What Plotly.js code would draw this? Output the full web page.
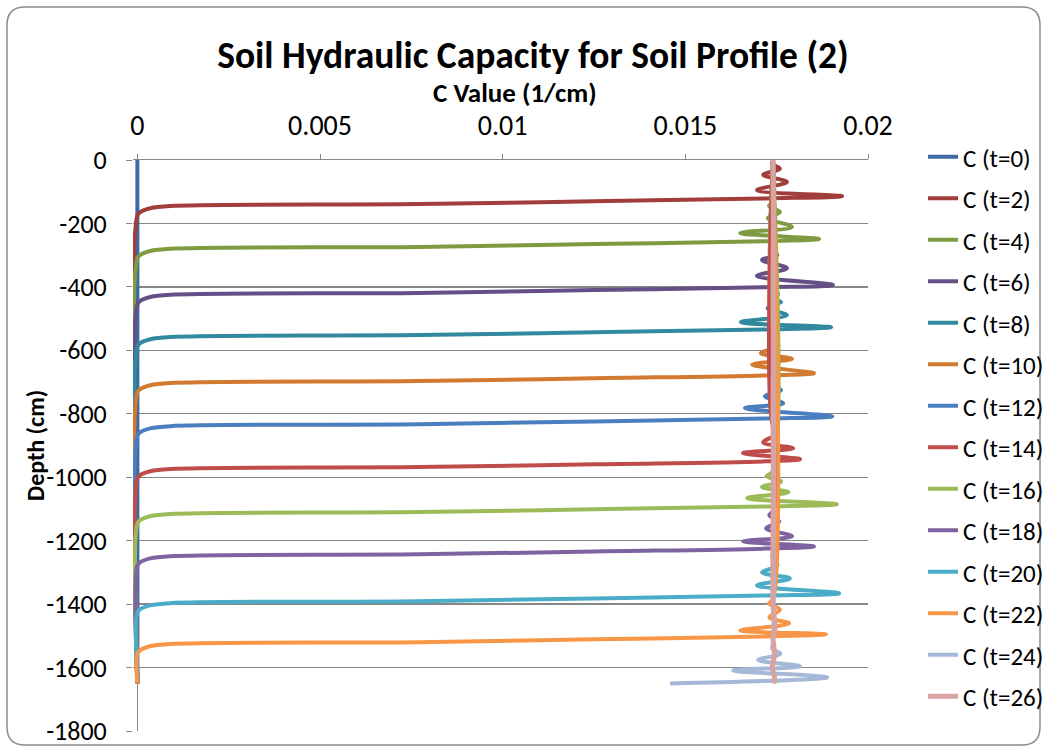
<!DOCTYPE html>
<html>
<head>
<meta charset="utf-8">
<script src="https://cdn.plot.ly/plotly-3.0.1.min.js"></script>
<style>
html,body{margin:0;padding:0;background:#fff;}
#chart{width:1047px;height:751px;}
</style>
</head>
<body>
<div id="chart"></div>
<script>
// ---------- DATA ----------
const seriesNames = ['C (t=0)','C (t=2)','C (t=4)','C (t=6)','C (t=8)','C (t=10)','C (t=12)',
  'C (t=14)','C (t=16)','C (t=18)','C (t=20)','C (t=22)','C (t=24)','C (t=26)'];

const depth_t0 = [0, -1650];
const c_t0     = [0, 0];

const depth_t2 = [0, -12, -28, -47, -69, -95, -114, -121, -130, -139, -145, -152, -164, -175, -1650];
const c_t2     = [0.01740, 0.01738, 0.01759, 0.01713, 0.01778, 0.01696, 0.01929, 0.01720, 0.01250, 0.00770, 0.00090, 0.00035, 0.00008, 0, 0];

const depth_t4 = [0, -130, -145, -164, -183, -211, -230, -249, -256, -265, -274, -280, -287, -299, -310, -1650];
const c_t4     = [0.01740, 0.01740, 0.01729, 0.01759, 0.01726, 0.01792, 0.01650, 0.01866, 0.01720, 0.01250, 0.00770, 0.00090, 0.00035, 0.00008, 0, 0];

const depth_t6 = [0, -270, -284, -300, -315, -341, -365, -394, -401, -410, -419, -425, -432, -444, -455, -1650];
const c_t6     = [0.01740, 0.01740, 0.01735, 0.01752, 0.01710, 0.01778, 0.01696, 0.01904, 0.01720, 0.01250, 0.00770, 0.00090, 0.00035, 0.00008, 0, 0];

const depth_t8 = [0, -410, -423, -436, -448, -467, -489, -511, -527, -534, -543, -552, -558, -565, -577, -588, -1650];
const c_t8     = [0.01740, 0.01740, 0.01754, 0.01735, 0.01762, 0.01725, 0.01778, 0.01652, 0.01899, 0.01720, 0.01250, 0.00770, 0.00090, 0.00035, 0.00008, 0, 0];

const depth_t10 = [0, -570, -586, -609, -627, -645, -672, -679, -688, -697, -703, -710, -722, -733, -1650];
const c_t10     = [0.01740, 0.01740, 0.01755, 0.01707, 0.01792, 0.01683, 0.01852, 0.01720, 0.01250, 0.00770, 0.00090, 0.00035, 0.00008, 0, 0];

const depth_t12 = [0, -690, -704, -726, -745, -767, -782, -808, -815, -824, -833, -839, -846, -858, -869, -1650];
const c_t12     = [0.01740, 0.01740, 0.01732, 0.01762, 0.01718, 0.01768, 0.01663, 0.01902, 0.01720, 0.01250, 0.00770, 0.00090, 0.00035, 0.00008, 0, 0];

const depth_t14 = [0, -840, -861, -890, -909, -924, -943, -950, -959, -968, -974, -981, -993, -1004, -1650];
const c_t14     = [0.01740, 0.01740, 0.01754, 0.01713, 0.01795, 0.01658, 0.01814, 0.01720, 0.01250, 0.00770, 0.00090, 0.00035, 0.00008, 0, 0];

const depth_t16 = [0, -980, -997, -1013, -1031, -1047, -1066, -1085, -1092, -1101, -1110, -1116, -1123, -1135, -1146, -1650];
const c_t16     = [0.01740, 0.01740, 0.01722, 0.01762, 0.01710, 0.01782, 0.01669, 0.01915, 0.01720, 0.01250, 0.00770, 0.00090, 0.00035, 0.00008, 0, 0];

const depth_t18 = [0, -1105, -1120, -1139, -1161, -1186, -1202, -1218, -1225, -1234, -1243, -1249, -1256, -1268, -1279, -1650];
const c_t18     = [0.01740, 0.01740, 0.01730, 0.01757, 0.01721, 0.01792, 0.01658, 0.01852, 0.01720, 0.01250, 0.00770, 0.00090, 0.00035, 0.00008, 0, 0];

const depth_t20 = [0, -1240, -1253, -1278, -1300, -1319, -1341, -1366, -1373, -1382, -1391, -1397, -1404, -1416, -1427, -1650];
const c_t20     = [0.01740, 0.01740, 0.01738, 0.01752, 0.01710, 0.01786, 0.01696, 0.01921, 0.01720, 0.01250, 0.00770, 0.00090, 0.00035, 0.00008, 0, 0];

const depth_t22 = [0, -1385, -1398, -1417, -1442, -1461, -1483, -1495, -1502, -1511, -1520, -1526, -1533, -1545, -1556, -1650];
const c_t22     = [0.01740, 0.01740, 0.01729, 0.01759, 0.01730, 0.01784, 0.01650, 0.01885, 0.01720, 0.01250, 0.00770, 0.00090, 0.00035, 0.00008, 0, 0];

const depth_t24 = [0, -1520, -1540, -1556, -1576, -1596, -1609, -1631, -1650];
const c_t24     = [0.01740, 0.01740, 0.01738, 0.01760, 0.01699, 0.01814, 0.01631, 0.01888, 0.01458];

const depth_t26 = [0, -200, -400, -600, -800, -1000, -1200, -1400, -1480, -1500, -1560, -1600, -1630, -1650];
const c_t26     = [0.01740, 0.01741, 0.01740, 0.01741, 0.01740, 0.01741, 0.01740, 0.01740, 0.01745, 0.01740, 0.01744, 0.01738, 0.01744, 0.01742];

const xTickVals = [0, 0.005, 0.01, 0.015, 0.02];
const xTickText = ['0', '0.005', '0.01', '0.015', '0.02'];
const yTickVals = [0, -200, -400, -600, -800, -1000, -1200, -1400, -1600, -1800];
const yTickText = ['0', '-200', '-400', '-600', '-800', '-1000', '-1200', '-1400', '-1600', '-1800'];

const depths = [depth_t0, depth_t2, depth_t4, depth_t6, depth_t8, depth_t10, depth_t12,
  depth_t14, depth_t16, depth_t18, depth_t20, depth_t22, depth_t24, depth_t26];
const cvals = [c_t0, c_t2, c_t4, c_t6, c_t8, c_t10, c_t12,
  c_t14, c_t16, c_t18, c_t20, c_t22, c_t24, c_t26];

// ---------- STYLE ----------
const colors = ['#3E69A3', '#A13D3A', '#7F9B42', '#664E86', '#32889E', '#D17A30', '#4A7EBE',
  '#BF4C49', '#9BBB59', '#7F63A1', '#4AACC6', '#F79646', '#A6B8D8', '#D9A3A2'];
const FONT = 'Carlito, "Liberation Sans", Arial, sans-serif';

const traces = seriesNames.map((name, i) => ({
  type: 'scatter',
  mode: 'lines',
  name: name,
  x: cvals[i],
  y: depths[i],
  legendgroup: 'g' + i,
  line: {color: colors[i], width: i === 13 ? 5 : 4, shape: 'spline', smoothing: 1},
  hoverinfo: 'x+y+name'
}));

// plot area geometry (px) used to place decorations
const PL = 133, PR = 868, PT = 160, PB = 731;
function px(xp) { return (xp - PL) / (PR - PL); }
function py(yp) { return (PB - yp) / (PB - PT); }

// rounded outer frame
const fl = 7, fr = 1040, ft = 7, fb = 745, rr = 18;
const framePath =
  'M' + px(fl + rr) + ',' + py(ft) +
  ' L' + px(fr - rr) + ',' + py(ft) +
  ' Q' + px(fr) + ',' + py(ft) + ' ' + px(fr) + ',' + py(ft + rr) +
  ' L' + px(fr) + ',' + py(fb - rr) +
  ' Q' + px(fr) + ',' + py(fb) + ' ' + px(fr - rr) + ',' + py(fb) +
  ' L' + px(fl + rr) + ',' + py(fb) +
  ' Q' + px(fl) + ',' + py(fb) + ' ' + px(fl) + ',' + py(fb - rr) +
  ' L' + px(fl) + ',' + py(ft + rr) +
  ' Q' + px(fl) + ',' + py(ft) + ' ' + px(fl + rr) + ',' + py(ft) + ' Z';

const layout = {
  width: 1047,
  height: 751,
  paper_bgcolor: '#ffffff',
  plot_bgcolor: '#ffffff',
  font: {family: FONT, color: '#000000'},
  margin: {l: PL, r: 1047 - PR, t: PT, b: 751 - PB, pad: 0, autoexpand: false},
  title: {
    text: '<b>Soil Hydraulic Capacity for Soil Profile (2)</b>',
    font: {family: FONT, size: 37.5, color: '#000000'},
    xref: 'container', yref: 'container',
    x: 533 / 1047, y: 1 - 55 / 751, xanchor: 'center', yanchor: 'middle'
  },
  showlegend: true,
  legend: {
    x: px(923), y: py(134), xanchor: 'left', yanchor: 'top',
    font: {family: FONT, size: 25, color: '#000000'},
    traceorder: 'grouped',
    tracegroupgap: 6,
    maxheight: 740,
    bgcolor: 'rgba(0,0,0,0)'
  },
  xaxis: {
    side: 'top',
    range: [-0.00012, 0.02],
    tickvals: xTickVals,
    ticktext: xTickText,
    tickfont: {family: FONT, size: 28, color: '#000000'},
    ticks: 'outside',
    ticklen: 5,
    tickcolor: '#878787',
    ticklabelstandoff: 8,
    showgrid: false,
    zeroline: true,
    zerolinecolor: '#878787',
    zerolinewidth: 1.3,
    showline: true,
    linecolor: '#878787',
    linewidth: 1.3,
    fixedrange: true
  },
  yaxis: {
    range: [-1800, 0],
    tickvals: yTickVals,
    ticktext: yTickText,
    tickfont: {family: FONT, size: 26, color: '#000000'},
    ticks: 'outside',
    ticklen: 6,
    tickcolor: '#878787',
    ticklabelstandoff: 14,
    showgrid: true,
    gridcolor: '#878787',
    gridwidth: 1.3,
    zeroline: false,
    showline: false,
    fixedrange: true
  },
  annotations: [
    {
      text: '<b>C Value (1/cm)</b>', xref: 'paper', yref: 'paper',
      x: px(515), y: py(93), xanchor: 'center', yanchor: 'middle',
      showarrow: false, font: {family: FONT, size: 27, color: '#000000'}
    },
    {
      text: '<b>Depth (cm)</b>', xref: 'paper', yref: 'paper',
      x: px(35), y: py(446), xanchor: 'center', yanchor: 'middle',
      textangle: -90, showarrow: false, font: {family: FONT, size: 24, color: '#000000'}
    }
  ],
  shapes: [
    {type: 'path', xref: 'paper', yref: 'paper', path: framePath,
     line: {color: '#8C8C8C', width: 1.5}, fillcolor: 'rgba(0,0,0,0)', layer: 'below'}
  ]
};

Plotly.newPlot('chart', traces, layout, {displayModeBar: false, staticPlot: true});
</script>
</body>
</html>
